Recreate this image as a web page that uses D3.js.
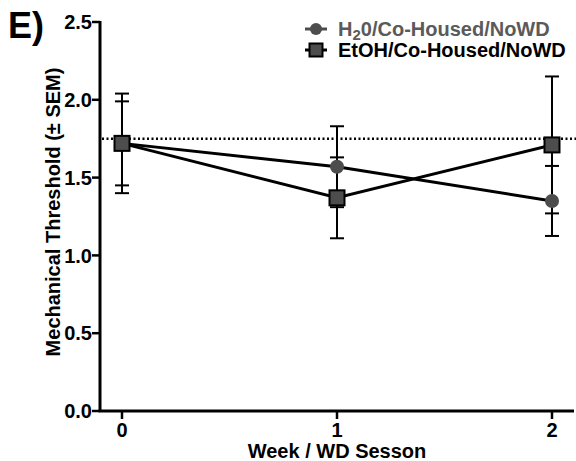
<!DOCTYPE html>
<html>
<head>
<meta charset="utf-8">
<script src="https://cdn.jsdelivr.net/npm/d3@7"></script>
<style>
  body { margin: 0; background: #fff; }
  svg { display: block; font-family: "Liberation Sans", Arial, sans-serif; font-weight: bold; }
</style>
</head>
<body>
<svg id="chart" width="576" height="461"></svg>
<script>
let weeks = [0, 1, 2];
let xTicks = ['0', '1', '2'];
let yTicks = [0, 0.5, 1.0, 1.5, 2.0, 2.5];
let h2oMean = [1.72, 1.57, 1.35];
let h2oSem = [0.27, 0.26, 0.225];
let etohMean = [1.72, 1.37, 1.71];
let etohSem = [0.32, 0.26, 0.44];
let baseline = 1.75;
let seriesNames = ['H20/Co-Housed/NoWD', 'EtOH/Co-Housed/NoWD'];

let colorMarker = '#4d4d4d';
let colorLegendGray = '#5a5a5a';

let svg = d3.select('#chart');
let axisLeft = 100, axisBottom = 411;

let x = d3.scaleLinear().domain([0, 2]).range([122, 552]);
let y = d3.scaleLinear().domain([0, 2.5]).range([axisBottom, 22]);

// axes
svg.append('line')
    .attr('x1', axisLeft).attr('x2', axisLeft)
    .attr('y1', y(2.5) - 1).attr('y2', axisBottom)
    .attr('stroke', '#000').attr('stroke-width', 3);
svg.append('line')
    .attr('x1', axisLeft - 1.5).attr('x2', 574)
    .attr('y1', axisBottom).attr('y2', axisBottom)
    .attr('stroke', '#000').attr('stroke-width', 3);

let yt = svg.append('g').selectAll('g').data(yTicks).join('g')
    .attr('transform', d => `translate(${axisLeft},${y(d)})`);
yt.append('line').attr('x1', -8).attr('x2', 0).attr('stroke', '#000').attr('stroke-width', 2.5);
yt.append('text')
    .attr('x', -8).attr('dy', '0.36em')
    .attr('text-anchor', 'end')
    .attr('font-size', 20)
    .text(d => d3.format('.1f')(d));

let xt = svg.append('g').selectAll('g').data(weeks).join('g')
    .attr('transform', d => `translate(${x(d)},${axisBottom})`);
xt.append('line').attr('y1', 0).attr('y2', 8).attr('stroke', '#000').attr('stroke-width', 2.5);
xt.append('text')
    .attr('y', 26).attr('text-anchor', 'middle')
    .attr('font-size', 20)
    .text((d, i) => xTicks[i]);

// axis titles
svg.append('text')
    .attr('x', x(1)).attr('y', 458)
    .attr('text-anchor', 'middle').attr('font-size', 20)
    .text('Week / WD Sesson');
svg.append('text')
    .attr('transform', `translate(60,212) rotate(-90)`)
    .attr('text-anchor', 'middle').attr('font-size', 20)
    .text('Mechanical Threshold (\u00b1 SEM)');

svg.append('text')
    .attr('x', 8).attr('y', 38)
    .attr('font-size', 36)
    .text('E)');

// dotted reference line
svg.append('line')
    .attr('x1', axisLeft + 2).attr('x2', 576)
    .attr('y1', y(baseline)).attr('y2', y(baseline))
    .attr('stroke', '#000').attr('stroke-width', 2.5)
    .attr('stroke-dasharray', '2,2.5');

let series = [
    {mean: h2oMean, sem: h2oSem, shape: 'circle'},
    {mean: etohMean, sem: etohSem, shape: 'square'}
];

// error bars
series.forEach(s => {
    let g = svg.append('g').selectAll('g').data(weeks).join('g');
    g.append('line')
        .attr('x1', d => x(d)).attr('x2', d => x(d))
        .attr('y1', (d, i) => y(s.mean[i] + s.sem[i]))
        .attr('y2', (d, i) => y(s.mean[i] - s.sem[i]))
        .attr('stroke', '#000').attr('stroke-width', 2);
    [1, -1].forEach(sign => {
        g.append('line')
            .attr('x1', d => x(d) - 7).attr('x2', d => x(d) + 7)
            .attr('y1', (d, i) => y(s.mean[i] + sign * s.sem[i]))
            .attr('y2', (d, i) => y(s.mean[i] + sign * s.sem[i]))
            .attr('stroke', '#000').attr('stroke-width', 2);
    });
});

// lines
let line = d3.line().x((d, i) => x(weeks[i])).y(d => y(d));
series.forEach(s => {
    svg.append('path')
        .attr('d', line(s.mean))
        .attr('fill', 'none').attr('stroke', '#000').attr('stroke-width', 3);
});

// markers
function drawMarker(g, shape, cx, cy) {
    if (shape === 'circle') {
        g.append('circle').attr('cx', cx).attr('cy', cy).attr('r', 7)
            .attr('fill', colorMarker);
    } else {
        g.append('rect').attr('x', cx - 7.5).attr('y', cy - 7.5)
            .attr('width', 15).attr('height', 15)
            .attr('fill', colorMarker).attr('stroke', '#000').attr('stroke-width', 2);
    }
}
series.forEach(s => {
    let g = svg.append('g');
    weeks.forEach((w, i) => drawMarker(g, s.shape, x(w), y(s.mean[i])));
});

// legend
let legend = svg.append('g');
let rows = [{y: 29, shape: 'circle', color: colorLegendGray}, {y: 50, shape: 'square', color: '#000'}];
rows.forEach((r, i) => {
    legend.append('line')
        .attr('x1', 305).attr('x2', 327)
        .attr('y1', r.y).attr('y2', r.y)
        .attr('stroke', r.shape === 'circle' ? colorMarker : '#000').attr('stroke-width', 3);
    let mg = legend.append('g');
    if (r.shape === 'circle') {
        mg.append('circle').attr('cx', 316).attr('cy', r.y).attr('r', 6).attr('fill', colorMarker);
    } else {
        mg.append('rect').attr('x', 309.5).attr('y', r.y - 6.5).attr('width', 13).attr('height', 13)
            .attr('fill', colorMarker).attr('stroke', '#000').attr('stroke-width', 2);
    }
    let t = legend.append('text')
        .attr('x', 338).attr('y', r.y + 7)
        .attr('font-size', 20).attr('fill', r.color);
    if (i === 0) {
        t.append('tspan').text(seriesNames[0].slice(0, 1));
        t.append('tspan').attr('font-size', 15).attr('dy', 4).text(seriesNames[0].slice(1, 2));
        t.append('tspan').attr('dy', -4).text(seriesNames[0].slice(2));
    } else {
        t.text(seriesNames[1]);
    }
});
</script>
</body>
</html>
